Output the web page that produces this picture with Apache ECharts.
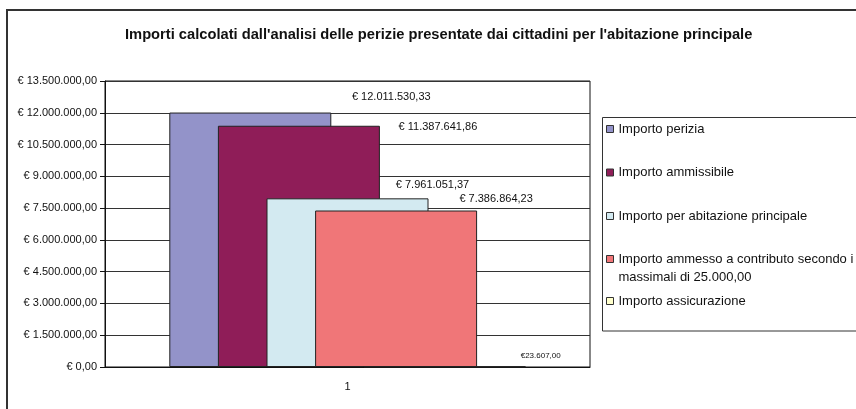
<!DOCTYPE html>
<html>
<head>
<meta charset="utf-8">
<script src="https://cdn.jsdelivr.net/npm/echarts@6/dist/echarts.min.js"></script>
<style>
  html, body { margin: 0; padding: 0; background: #fff; }
  #chart { width: 856px; height: 409px; }
</style>
</head>
<body>
<div id="chart"></div>
<script>
const TITLE = "Importi calcolati dall'analisi delle perizie presentate dai cittadini per l'abitazione principale"
const CATEGORIES = ['1']
const SERIES_NAMES = [
  'Importo perizia',
  'Importo ammissibile',
  'Importo per abitazione principale',
  'Importo ammesso a contributo secondo i massimali di 25.000,00',
  'Importo assicurazione',
]
const SERIES_VALUES = [12011530.33, 11387641.86, 7961051.37, 7386864.23, 23607.00]
const Y_MIN = 0
const Y_MAX = 13500000
const Y_STEP = 1500000

// per-series look: colour, label offset, label font size, space after €
const STYLES = [
  { color: '#9393C9', offset: [141, -10], size: 11, space: true },
  { color: '#8F1D58', offset: [139, 7], size: 11, space: true },
  { color: '#D3EAF1', offset: [85, -8], size: 11, space: true },
  { color: '#F07678', offset: [100, -6], size: 11, space: true },
  { color: '#FFFFCC', offset: [96, -6], size: 8, space: false },
]

const FONT = '"Liberation Sans", Arial, sans-serif'

function euro(v, space) {
  const parts = v.toFixed(2).split('.')
  const int = parts[0].replace(/\B(?=(\d{3})+(?!\d))/g, '.')
  return '€' + (space ? ' ' : '') + int + ',' + parts[1]
}

const chart = echarts.init(document.getElementById('chart'), null, { renderer: 'canvas' })

const series = SERIES_NAMES.map((name, i) => ({
  type: 'bar',
  name,
  data: [SERIES_VALUES[i]],
  barWidth: 162,
  barGap: '-70%',
  itemStyle: { color: STYLES[i].color, borderColor: '#222', borderWidth: 1 },
  label: {
    show: true,
    position: 'top',
    distance: 0,
    offset: STYLES[i].offset,
    color: '#111',
    fontFamily: FONT,
    fontSize: STYLES[i].size,
    formatter: p => euro(p.value, STYLES[i].space),
  },
  emphasis: { disabled: true },
}))

const legendBase = {
  orient: 'vertical',
  left: 606,
  padding: 0,
  icon: 'rect',
  itemWidth: 7,
  itemHeight: 7,
  itemGap: 25.5,
  itemStyle: { borderColor: '#333', borderWidth: 1 },
  textStyle: { fontFamily: FONT, fontSize: 13, color: '#111', lineHeight: 18 },
  selectedMode: false,
}

chart.setOption({
  animation: false,
  backgroundColor: '#fff',
  title: {
    text: TITLE,
    left: 120,
    top: 22,
    textStyle: { fontFamily: FONT, fontSize: 14.7, fontWeight: 'bold', color: '#111' },
  },
  graphic: [
    {
      type: 'rect', z: -10, silent: true,
      shape: { x: 7, y: 10, width: 900, height: 450 },
      style: { fill: 'none', stroke: '#333', lineWidth: 2 },
    },
    {
      type: 'rect', z: -5, silent: true,
      shape: { x: 602.5, y: 117.5, width: 300, height: 213.5 },
      style: { fill: '#fff', stroke: '#333', lineWidth: 1 },
    },
  ],
  legend: [
    Object.assign({}, legendBase, { top: 120, data: SERIES_NAMES.slice(0, 3) }),
    Object.assign({}, legendBase, {
      top: 232,
      data: [SERIES_NAMES[3]],
      // leading empty line keeps the icon level with the first text line
      formatter: n => '\n' + n.replace(' massimali', '\nmassimali'),
    }),
    Object.assign({}, legendBase, { top: 292, data: [SERIES_NAMES[4]] }),
  ],
  grid: {
    left: 105, right: 266, top: 81, bottom: 42,
    show: true, borderColor: '#111', borderWidth: 1, backgroundColor: '#fff',
  },
  xAxis: {
    type: 'category',
    data: CATEGORIES,
    axisLine: { lineStyle: { color: '#111', width: 1 } },
    axisTick: { show: false },
    axisLabel: { fontFamily: FONT, fontSize: 11, color: '#111', margin: 14 },
  },
  yAxis: {
    type: 'value',
    min: Y_MIN,
    max: Y_MAX,
    interval: Y_STEP,
    axisLine: { show: true, lineStyle: { color: '#111', width: 1 } },
    axisTick: { show: true, length: 5, lineStyle: { color: '#111' } },
    axisLabel: {
      fontFamily: FONT, fontSize: 11, color: '#111', margin: 8,
      formatter: v => euro(v, true),
    },
    splitLine: { lineStyle: { color: '#333', width: 1 } },
  },
  series,
})
</script>
</body>
</html>
